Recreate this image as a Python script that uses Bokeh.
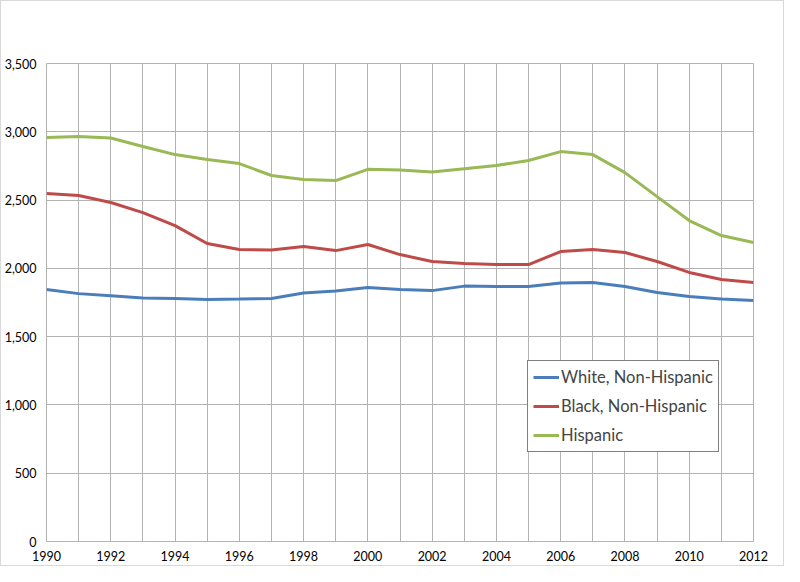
from bokeh.plotting import figure
from bokeh.models import Range1d, SingleIntervalTicker, NumeralTickFormatter, Legend, LegendItem, FixedTicker
from bokeh.embed import file_html
from bokeh.resources import INLINE

years = list(range(1990, 2013))
white = [1845, 1815, 1800, 1783, 1779, 1772, 1775, 1779, 1819, 1834, 1860, 1845, 1837,
         1870, 1867, 1867, 1892, 1896, 1867, 1823, 1794, 1775, 1764]
black = [2548, 2533, 2482, 2408, 2313, 2182, 2138, 2135, 2160, 2130, 2175, 2101, 2050,
         2035, 2028, 2028, 2123, 2138, 2116, 2050, 1970, 1918, 1896]
hispanic = [2958, 2965, 2955, 2892, 2833, 2797, 2767, 2680, 2650, 2643, 2725, 2720, 2705,
            2730, 2753, 2790, 2855, 2833, 2701, 2525, 2350, 2240, 2190]
series_names = ["White, Non-Hispanic", "Black, Non-Hispanic", "Hispanic"]
colors = ["#4a7ebb", "#be4b48", "#98b954"]
x_tick_labels = list(range(1990, 2013, 2))
y_ticks = list(range(0, 3501, 500))

p = figure(width=784, height=566, output_backend="svg", toolbar_location=None,
           x_range=Range1d(1990, 2012), y_range=Range1d(0, 3500),
           min_border_left=41, min_border_right=32, min_border_top=62, min_border_bottom=26)
p.styles = {"border": "1px solid #d9d9d9"}
p.outline_line_color = "#b3b3b3"

renderers = []
for vals, c in zip([white, black, hispanic], colors):
    r = p.line(years, vals, line_color=c, line_width=3)
    renderers.append(r)

p.xaxis.ticker = FixedTicker(ticks=x_tick_labels)
p.yaxis.ticker = FixedTicker(ticks=y_ticks)
p.yaxis.formatter = NumeralTickFormatter(format="0,0")
p.xgrid.ticker = SingleIntervalTicker(interval=1)
p.ygrid.ticker = FixedTicker(ticks=y_ticks)
for g in (p.xgrid, p.ygrid):
    g.grid_line_color = "#b3b3b3"
    g.grid_line_width = 1
for ax in (p.xaxis, p.yaxis):
    ax.axis_line_color = None
    ax.major_tick_line_color = None
    ax.minor_tick_line_color = None
    ax.major_tick_out = 0
    ax.minor_tick_out = 0
    ax.major_tick_in = 0
    ax.minor_tick_in = 0
    ax.major_label_text_font = "Lato"
    ax.major_label_text_font_size = "12.5px"
    ax.major_label_text_color = "#000000"
p.yaxis.major_label_standoff = 10
p.xaxis.major_label_standoff = 9

legend = Legend(items=[LegendItem(label=n, renderers=[r]) for n, r in zip(series_names, renderers)],
                location=(481, 89), label_text_font="Lato", label_text_font_size="16.5px",
                border_line_color="#000000", border_line_width=1, glyph_width=26,
                label_standoff=2, padding=5, spacing=7, label_height=22, glyph_height=22,
                background_fill_alpha=1.0, margin=0)
p.add_layout(legend)

open("out.html", "w").write(file_html(p, INLINE))
